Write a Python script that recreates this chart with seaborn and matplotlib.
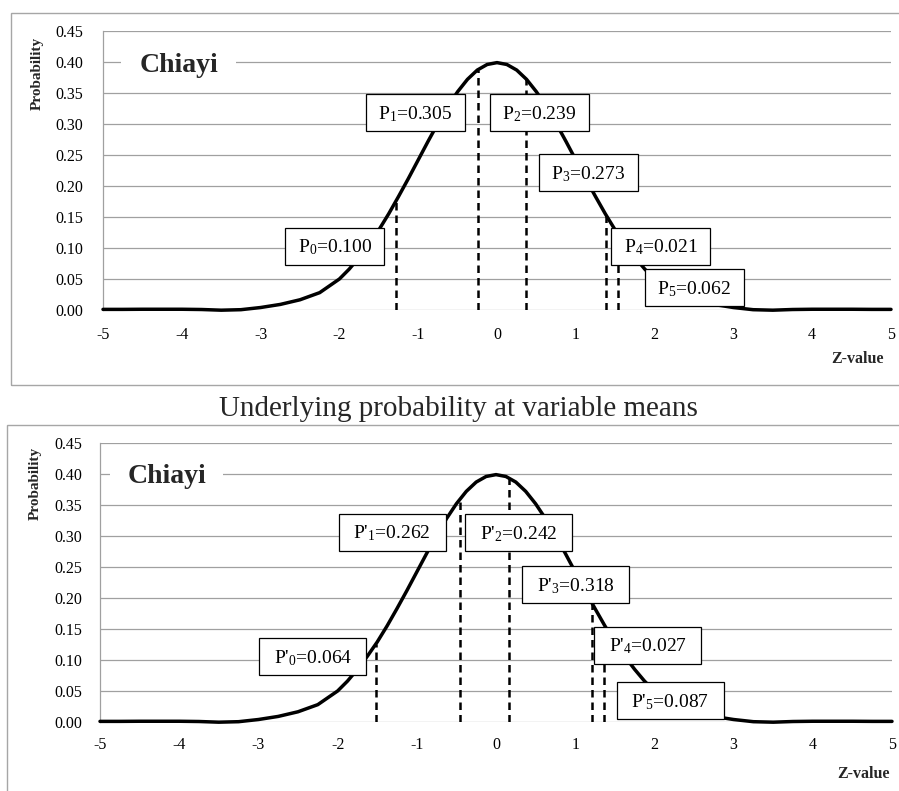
import numpy as np
import pandas as pd
import matplotlib
matplotlib.use("Agg")
import matplotlib.pyplot as plt
import seaborn as sns
from matplotlib.patches import Rectangle
from matplotlib.transforms import ScaledTranslation

# ---------------- data ----------------
z_values = [-5.0, -4.75, -4.5, -4.25, -4.0, -3.75, -3.5, -3.25, -3.0, -2.75, -2.5, -2.25,
            -2.0, -1.875, -1.75, -1.625, -1.5, -1.375, -1.25, -1.125, -1.0, -0.875, -0.75,
            -0.625, -0.5, -0.375, -0.25, -0.125, 0.0, 0.125, 0.25, 0.375, 0.5, 0.625, 0.75,
            0.875, 1.0, 1.125, 1.25, 1.375, 1.5, 1.625, 1.75, 1.875, 2.0, 2.25, 2.5, 2.75,
            3.0, 3.25, 3.5, 3.75, 4.0, 4.25, 4.5, 4.75, 5.0]
probability = [0.001, 0.001, 0.0012, 0.0012, 0.0012, 0.0008, -0.0003, 0.0005, 0.004, 0.009,
               0.0165, 0.028, 0.050, 0.066, 0.085, 0.106, 0.129, 0.155, 0.183, 0.212, 0.242,
               0.272, 0.301, 0.328, 0.352, 0.372, 0.387, 0.396, 0.399, 0.396, 0.387, 0.372,
               0.352, 0.328, 0.301, 0.272, 0.242, 0.212, 0.183, 0.155, 0.129, 0.106, 0.085,
               0.066, 0.050, 0.028, 0.0165, 0.009, 0.004, 0.0005, -0.0003, 0.0008, 0.0012,
               0.0012, 0.0012, 0.001, 0.001]

top_probs = [0.100, 0.305, 0.239, 0.273, 0.021, 0.062]
top_cuts = [-1.28, -0.24, 0.37, 1.38, 1.54]
bottom_probs = [0.064, 0.262, 0.242, 0.318, 0.027, 0.087]
bottom_cuts = [-1.52, -0.45, 0.17, 1.21, 1.36]

panel_name = "Chiayi"
middle_title = "Underlying probability at variable means"
y_label = "Probability"
x_label = "Z-value"
y_ticks = [0.00, 0.05, 0.10, 0.15, 0.20, 0.25, 0.30, 0.35, 0.40, 0.45]
x_ticks = [-5, -4, -3, -2, -1, 0, 1, 2, 3, 4, 5]

# ---------------- layout (positions / sizes) ----------------
top_box_pos = [(-2.056, 0.103), (-1.04, 0.318), (0.533, 0.318), (1.155, 0.221), (2.081, 0.103), (2.50, 0.0355)]
bottom_box_pos = [(-2.311, 0.105), (-1.313, 0.306), (0.290, 0.305), (1.010, 0.221), (1.919, 0.124), (2.197, 0.034)]

sns.set_style("white")
plt.rcParams['font.family'] = ['Liberation Serif', 'DejaVu Serif']
plt.rcParams['mathtext.fontset'] = 'custom'
plt.rcParams['mathtext.rm'] = 'Liberation Serif'
plt.rcParams['mathtext.it'] = 'Liberation Serif:italic'
plt.rcParams['mathtext.bf'] = 'Liberation Serif:bold'
plt.rcParams['mathtext.default'] = 'regular'

W, H = 899, 791
DPI = 100
fig = plt.figure(figsize=(W / DPI, H / DPI), dpi=DPI)

GRID = '#a0a0a0'
FRAME = '#a6a6a6'

df = pd.DataFrame({"z": z_values, "p": probability})


def fx(px):
    return px / W


def fy(py):
    return 1 - py / H


def make_panel(left, right, top, bottom, probs, cuts, box_pos, box_w, primed,
               name_pos, name_bg_w, ylab_pos, xlab_pos, xpad, ypad):
    ax = fig.add_axes([fx(left), fy(bottom), fx(right) - fx(left), fy(top) - fy(bottom)])
    ax.set_xlim(-5, 5)
    ax.set_ylim(0, 0.45)
    for yv in y_ticks:
        ax.axhline(yv, color=GRID, lw=0.9, zorder=1)
    for s in ['top', 'right', 'bottom']:
        ax.spines[s].set_visible(False)
    ax.spines['left'].set_color(GRID)
    ax.spines['left'].set_linewidth(0.9)
    ax.set_yticks(y_ticks)
    ax.set_yticklabels([f"{v:.2f}" for v in y_ticks])
    ax.set_xticks(x_ticks)
    ax.set_xticklabels([str(v) for v in x_ticks])
    ax.tick_params(axis='both', length=0, labelsize=11.5, colors='black')
    ax.tick_params(axis='x', pad=xpad)
    ax.tick_params(axis='y', pad=ypad)

    sns.lineplot(data=df, x="z", y="p", ax=ax, color='black', lw=2.5, zorder=3,
                 sort=False, estimator=None)
    for ln in ax.lines[-1:]:
        ln.set_clip_on(False)
        ln.set_solid_joinstyle('round')
    ax.set_xlabel("")
    ax.set_ylabel("")

    heights = np.interp(cuts, z_values, probability)
    for c, h in zip(cuts, heights):
        ax.plot([c, c], [0, h], color='black', lw=1.8, ls=(0, (3.0, 2.0)), zorder=4)

    # label boxes
    bh = 37 / DPI
    cap = 0.662 * 14 * DPI / 72
    for i, (p, (xd, yd)) in enumerate(zip(probs, box_pos)):
        tr = fig.dpi_scale_trans + ScaledTranslation(xd, yd, ax.transData)
        bw = box_w / DPI
        rect = Rectangle((-bw / 2, -bh / 2), bw, bh, transform=tr, facecolor='white',
                         edgecolor='black', lw=0.9, zorder=5, clip_on=False)
        ax.add_patch(rect)
        lab = (f"P'$_{i}$={p:.3f}" if primed else f"P$_{i}$={p:.3f}")
        ttr = ax.transData + ScaledTranslation(0, -cap / 2 / DPI, fig.dpi_scale_trans)
        ax.text(xd, yd, lab, transform=ttr, ha='center', va='baseline', fontsize=14,
                zorder=6, color='black')

    # panel name
    nx, ny = name_pos
    tr = fig.dpi_scale_trans + ScaledTranslation(nx, 0.40, ax.transData)
    ax.add_patch(Rectangle((-name_bg_w / 2 / DPI, -10 / DPI), name_bg_w / DPI, 20 / DPI,
                           transform=tr, facecolor='white', edgecolor='none', zorder=2,
                           clip_on=False))
    ax.text(nx, ny, panel_name, ha='center', va='baseline', fontsize=20, fontweight='bold',
            zorder=6)

    fig.text(fx(ylab_pos[0]), fy(ylab_pos[1]), y_label, rotation=90, ha='center', va='center',
             fontsize=11, fontweight='bold')
    fig.text(fx(xlab_pos[0]), fy(xlab_pos[1]), x_label, ha='center', va='center',
             fontsize=11.5, fontweight='bold')
    return ax


# frames around the two panels
fig.add_artist(Rectangle((fx(11), fy(385)), fx(920) - fx(11), fy(13) - fy(385),
                         transform=fig.transFigure, facecolor='none', edgecolor=FRAME,
                         lw=1.0, clip_on=False))
fig.add_artist(Rectangle((fx(7), fy(830)), fx(920) - fx(7), fy(425) - fy(830),
                         transform=fig.transFigure, facecolor='none', edgecolor=FRAME,
                         lw=1.0, clip_on=False))

make_panel(103, 891, 31, 310, top_probs, top_cuts, top_box_pos, 99, False,
           (-4.04, 0.384), 115, (37, 73), (858, 359), 12, 14)
make_panel(100, 892, 443, 722, bottom_probs, bottom_cuts, bottom_box_pos, 107, True,
           (-4.16, 0.3855), 113, (35, 483), (864, 774), 11, 13)

fig.text(fx(458), fy(416), middle_title, ha='center', va='baseline', fontsize=21)

fig.savefig("out.png", dpi=DPI, facecolor='white')
